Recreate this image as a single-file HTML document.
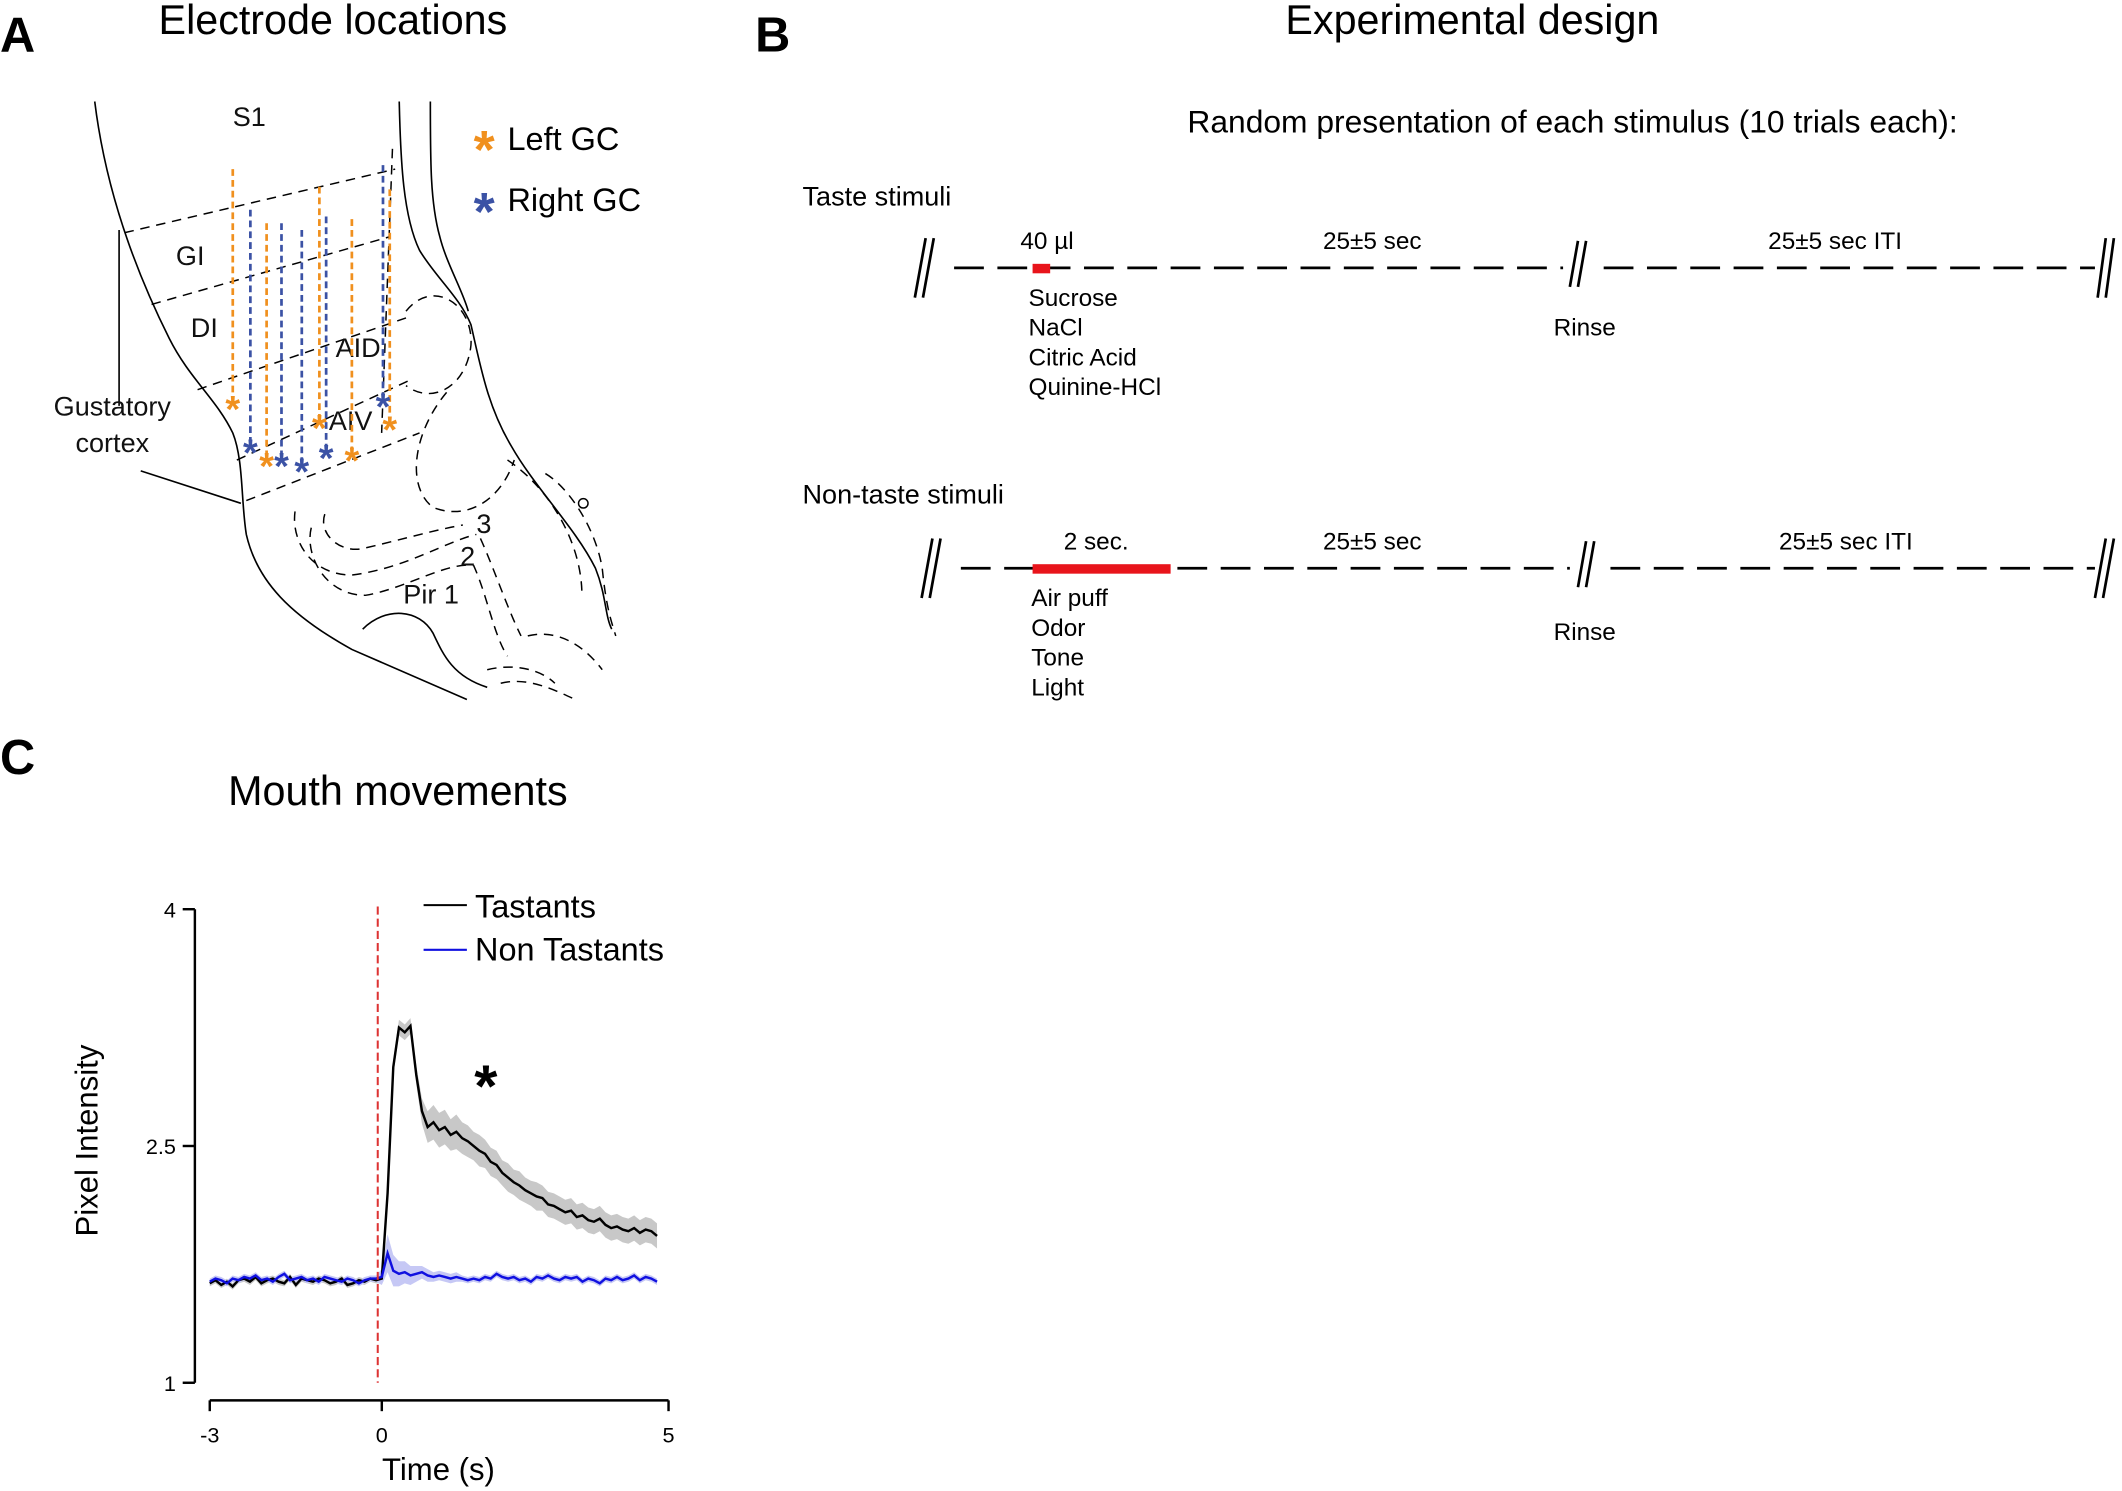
<!DOCTYPE html>
<html><head><meta charset="utf-8"><style>
html,body{margin:0;padding:0;background:#fff}
svg{display:block;font-family:"Liberation Sans",Arial,sans-serif}
</style></head><body>
<svg id="fig" width="2122" height="1491" viewBox="0 0 1568 1102" preserveAspectRatio="none" xmlns="http://www.w3.org/2000/svg">
<!-- Panel A -->
<g>
<text x="0" y="38" font-size="36" font-weight="bold">A</text>
<text x="246" y="25" font-size="30.5" text-anchor="middle">Electrode locations</text>
<g fill="none" stroke="#000" stroke-width="1.2">
<path d="M70,75 C78,140 100,200 125,250 C140,280 160,295 172,320 C180,340 178,370 182,395 C190,430 215,455 260,480 L345,517"/>
<path d="M295,75 C296,120 298,160 310,185 C322,205 340,220 348,240 C355,270 360,300 378,330 C395,360 425,390 440,420 C448,440 447,455 452,465"/>
<path d="M318,75 C318,120 318,150 325,175 C330,195 342,215 346,230"/>
<path d="M268,465 C285,448 310,450 320,468 C328,485 335,500 360,508"/>
<line x1="88" y1="170" x2="88" y2="300"/>
<line x1="104" y1="348" x2="178" y2="372"/>
</g>
<g fill="none" stroke="#000" stroke-width="1.1" stroke-dasharray="7,5">
<line x1="92" y1="172" x2="292" y2="125"/>
<line x1="112" y1="225" x2="288" y2="175"/>
<line x1="146" y1="288" x2="300" y2="235"/>
<line x1="175" y1="340" x2="305" y2="280"/>
<line x1="182" y1="370" x2="310" y2="320"/>
<path d="M290,110 L282,320"/>
<path d="M300,230 C320,205 350,225 348,255 C345,285 320,300 300,285"/>
<path d="M330,290 C305,320 300,360 320,375 C345,385 370,370 380,340"/>
<path d="M218,378 C215,400 230,425 260,425 C300,420 330,400 352,395"/>
<path d="M240,380 C235,395 252,410 270,405 C300,398 320,392 342,388"/>
<path d="M230,390 C225,410 240,440 270,440 C300,435 330,415 350,418 C360,440 365,470 375,485"/>
<path d="M355,398 C365,420 375,450 385,470"/>
<path d="M403,350 C420,360 440,390 445,420 C448,450 452,460 455,470"/>
<path d="M375,340 C405,360 430,400 430,440"/>
<path d="M360,495 C380,490 400,495 410,505 M370,505 C390,500 410,510 425,517 M390,470 C410,465 430,475 445,495"/>
<circle cx="431" cy="372" r="3.5" stroke-dasharray="none"/>
</g>
<g font-size="20" fill="#111">
<text x="172" y="93">S1</text>
<text x="130" y="196">GI</text>
<text x="141" y="249">DI</text>
<text x="248" y="264">AID</text>
<text x="243" y="318">AIV</text>
<text x="83" y="307" text-anchor="middle">Gustatory</text>
<text x="83" y="334" text-anchor="middle">cortex</text>
<text x="352" y="394">3</text>
<text x="340" y="418">2</text>
<text x="298" y="446">Pir 1</text>
</g>
<g id="electrodes"></g>
<g>
<text x="350" y="124" font-size="40" fill="#f0901e" font-weight="bold">*</text>
<text x="375" y="111" font-size="24">Left GC</text>
<text x="350" y="170" font-size="40" fill="#3b52a5" font-weight="bold">*</text>
<text x="375" y="156" font-size="24">Right GC</text>
</g>
</g>
<!-- Panel B -->
<g>
<text x="558" y="38" font-size="36" font-weight="bold">B</text>
<text x="1088" y="25" font-size="30.5" text-anchor="middle">Experimental design</text>
<text x="1162" y="98" font-size="23.5" text-anchor="middle">Random presentation of each stimulus (10 trials each):</text>
<text x="593" y="152" font-size="20">Taste stimuli</text>
<text x="593" y="372" font-size="20">Non-taste stimuli</text>
<g stroke="#000" stroke-width="2" fill="none">
<line x1="705" y1="198" x2="1155" y2="198" stroke-dasharray="22,10"/>
<line x1="1185" y1="198" x2="1548" y2="198" stroke-dasharray="22,10"/>
<path d="M676,220 L684,176 M682,220 L690,176 M1160,212 L1166,178 M1166,212 L1172,178 M1550,220 L1556,176 M1556,220 L1562,176"/>
</g>
<rect x="763" y="195" width="13" height="7" fill="#e8141b"/>
<g stroke="#000" stroke-width="2" fill="none">
<line x1="710" y1="420" x2="1160" y2="420" stroke-dasharray="22,10"/>
<line x1="1190" y1="420" x2="1548" y2="420" stroke-dasharray="22,10"/>
<path d="M681,442 L689,398 M687,442 L695,398 M1166,434 L1172,400 M1172,434 L1178,400 M1548,442 L1556,398 M1554,442 L1562,398"/>
</g>
<rect x="763" y="417" width="102" height="7" fill="#e8141b"/>
<g font-size="18">
<text x="754" y="184">40 µl</text>
<text x="1014" y="184" text-anchor="middle">25±5 sec</text>
<text x="1356" y="184" text-anchor="middle">25±5 sec ITI</text>
<text x="760" y="226">Sucrose</text>
<text x="760" y="248">NaCl</text>
<text x="760" y="270">Citric Acid</text>
<text x="760" y="292">Quinine-HCl</text>
<text x="1148" y="248">Rinse</text>
<text x="810" y="406" text-anchor="middle">2 sec.</text>
<text x="1014" y="406" text-anchor="middle">25±5 sec</text>
<text x="1364" y="406" text-anchor="middle">25±5 sec ITI</text>
<text x="762" y="448">Air puff</text>
<text x="762" y="470">Odor</text>
<text x="762" y="492">Tone</text>
<text x="762" y="514">Light</text>
<text x="1148" y="473">Rinse</text>
</g>
</g>
<!-- Panel C -->
<g>
<text x="0" y="572" font-size="36" font-weight="bold">C</text>
<text x="294" y="595" font-size="30.5" text-anchor="middle">Mouth movements</text>
<g id="chart"></g>
</g>
</svg>
<script>
// Chart data
const timesStart = -3, timesStep = 0.1;
const tastants = [1.63,1.65,1.62,1.64,1.61,1.65,1.66,1.64,1.67,1.63,1.65,1.66,1.64,1.63,1.67,1.62,1.66,1.65,1.64,1.66,1.65,1.63,1.64,1.66,1.62,1.63,1.65,1.64,1.66,1.65,
1.66,2.2,3.0,3.25,3.22,3.26,2.95,2.72,2.62,2.65,
2.6,2.62,2.57,2.59,2.55,2.53,2.5,2.47,2.45,2.4,
2.38,2.33,2.3,2.27,2.25,2.22,2.2,2.18,2.17,2.13,
2.12,2.1,2.08,2.09,2.05,2.06,2.03,2.02,2.04,2.0,
1.98,1.99,1.97,1.96,1.98,1.95,1.97,1.96,1.93];
const nonTastants = [1.64,1.66,1.65,1.63,1.66,1.65,1.67,1.66,1.68,1.65,1.66,1.64,1.67,1.69,1.65,1.66,1.67,1.65,1.66,1.64,1.67,1.66,1.65,1.64,1.66,1.65,1.63,1.65,1.66,1.66,
1.67,1.82,1.71,1.69,1.7,1.68,1.69,1.7,1.68,1.67,
1.68,1.67,1.66,1.67,1.66,1.65,1.66,1.65,1.67,1.66,
1.69,1.67,1.66,1.67,1.65,1.66,1.64,1.67,1.66,1.68,
1.66,1.65,1.67,1.66,1.67,1.64,1.66,1.65,1.63,1.66,
1.65,1.67,1.65,1.66,1.68,1.65,1.67,1.66,1.64];
const semTastants = [0.02,0.02,0.02,0.02,0.02,0.02,0.02,0.02,0.02,0.02,0.02,0.02,0.02,0.02,0.02,0.02,0.02,0.02,0.02,0.02,0.02,0.02,0.02,0.02,0.02,0.02,0.02,0.02,0.02,0.02,
0.03,0.05,0.05,0.05,0.05,0.05,0.06,0.08,0.1,0.11,
0.11,0.11,0.1,0.11,0.1,0.1,0.09,0.1,0.09,0.09,
0.09,0.08,0.09,0.08,0.09,0.08,0.08,0.09,0.08,0.08,
0.08,0.08,0.08,0.08,0.08,0.08,0.08,0.08,0.08,0.08,
0.08,0.08,0.08,0.08,0.08,0.08,0.08,0.08,0.08];
const semNonTastants = [0.02,0.02,0.02,0.02,0.02,0.02,0.02,0.02,0.02,0.02,0.02,0.02,0.02,0.02,0.02,0.02,0.02,0.02,0.02,0.02,0.02,0.02,0.02,0.02,0.02,0.02,0.02,0.02,0.02,0.02,
0.05,0.12,0.1,0.08,0.07,0.06,0.05,0.04,0.04,0.03,
0.03,0.03,0.03,0.03,0.02,0.02,0.02,0.02,0.02,0.02,
0.02,0.02,0.02,0.02,0.02,0.02,0.02,0.02,0.02,0.02,
0.02,0.02,0.02,0.02,0.02,0.02,0.02,0.02,0.02,0.02,
0.02,0.02,0.02,0.02,0.02,0.02,0.02,0.02,0.02];
const xTicks = [-3,0,5];
const yTicks = [1,2.5,4];
const yTickLabels = ["1","2.5","4"];

// Electrode data (panel A)
const leftGC = [[172,125,298],[197,165,340],[236,138,312],[260,162,336],[288,140,313]];
const rightGC = [[185,155,330],[208,165,340],[223,170,344],[241,160,334],[283,122,296]];

const NS='http://www.w3.org/2000/svg';
function mk(tag, attrs, parent){const e=document.createElementNS(NS,tag);for(const k in attrs)e.setAttribute(k,attrs[k]);parent.appendChild(e);return e;}

const eg=document.getElementById('electrodes');
function drawElectrodes(arr,color,nm){
  arr.forEach(function(d){
    const l=mk('line',{x1:d[0],y1:d[1],x2:d[0],y2:d[2],stroke:color,'stroke-width':2,'stroke-dasharray':'5,3'},eg);
    
    
    const s=mk('text',{x:d[0],y:d[2]+14,'text-anchor':'middle','font-size':28,'font-weight':'bold',fill:color},eg);
    s.textContent='*';
    
    
  });
}
drawElectrodes(leftGC,'#f0901e','left-gc');
drawElectrodes(rightGC,'#3b52a5','right-gc');

// Chart
const g=document.getElementById('chart');
const X=t=>155+(t+3)*(494-155)/8;
const Y=v=>1022-(v-1)*(1022-672)/3;
const tAt=i=>timesStart+i*timesStep;

function band(vals,sem,fill,nm){
  let d='';
  vals.forEach((v,i)=>{d+=(i?'L':'M')+X(tAt(i)).toFixed(1)+','+Y(v+sem[i]).toFixed(1);});
  for(let i=vals.length-1;i>=0;i--)d+='L'+X(tAt(i)).toFixed(1)+','+Y(vals[i]-sem[i]).toFixed(1);
  const p=mk('path',{d:d+'Z',fill:fill,stroke:'none'},g);
  
  
}
function line(vals,color,nm){
  const d=vals.map((v,i)=>(i?'L':'M')+X(tAt(i)).toFixed(1)+','+Y(v).toFixed(1)).join('');
  const p=mk('path',{d:d,fill:'none',stroke:color,'stroke-width':1.8},g);
  
  
}
band(tastants,semTastants,'#c8c8c8','tastants-sem-band');
band(nonTastants,semNonTastants,'#c6c8f5','non-tastants-sem-band');
line(tastants,'#000','tastants-line');
line(nonTastants,'#1010e0','non-tastants-line');

const red=mk('line',{x1:X(0)-3,y1:670,x2:X(0)-3,y2:1022,stroke:'#d33','stroke-width':1.5,'stroke-dasharray':'6,3'},g);



const ya=mk('line',{x1:144,y1:Y(4),x2:144,y2:Y(1),stroke:'#000','stroke-width':1.8},g);


yTicks.forEach((v,i)=>{
  const t=mk('line',{x1:135,y1:Y(v),x2:144,y2:Y(v),stroke:'#000','stroke-width':1.8},g);
  
  
  const tx=mk('text',{x:130,y:Y(v)+6,'text-anchor':'end','font-size':16},g);
  tx.textContent=yTickLabels[i];
  
  
});
const xa=mk('line',{x1:X(-3),y1:1035,x2:X(5),y2:1035,stroke:'#000','stroke-width':1.8},g);


xTicks.forEach(v=>{
  const t=mk('line',{x1:X(v),y1:1035,x2:X(v),y2:1043,stroke:'#000','stroke-width':1.8},g);
  
  
  const tx=mk('text',{x:X(v),y:1066,'text-anchor':'middle','font-size':16},g);
  tx.textContent=String(v);
  
  
});
const xt=mk('text',{x:324,y:1094,'text-anchor':'middle','font-size':23},g);
xt.textContent='Time (s)';


const yt=mk('text',{x:0,y:0,'text-anchor':'middle','font-size':23,transform:'translate(72,843) rotate(-90)'},g);
yt.textContent='Pixel Intensity';


const star=mk('text',{x:359,y:818,'text-anchor':'middle','font-size':44,'font-weight':'bold'},g);
star.textContent='*';



const l1=mk('line',{x1:313,y1:669,x2:345,y2:669,stroke:'#000','stroke-width':1.5},g);


const lt1=mk('text',{x:351,y:678,'font-size':24},g);
lt1.textContent='Tastants';


const l2=mk('line',{x1:313,y1:702,x2:345,y2:702,stroke:'#1010e0','stroke-width':1.5},g);


const lt2=mk('text',{x:351,y:710,'font-size':24},g);
lt2.textContent='Non Tastants';


</script>
</body></html>
